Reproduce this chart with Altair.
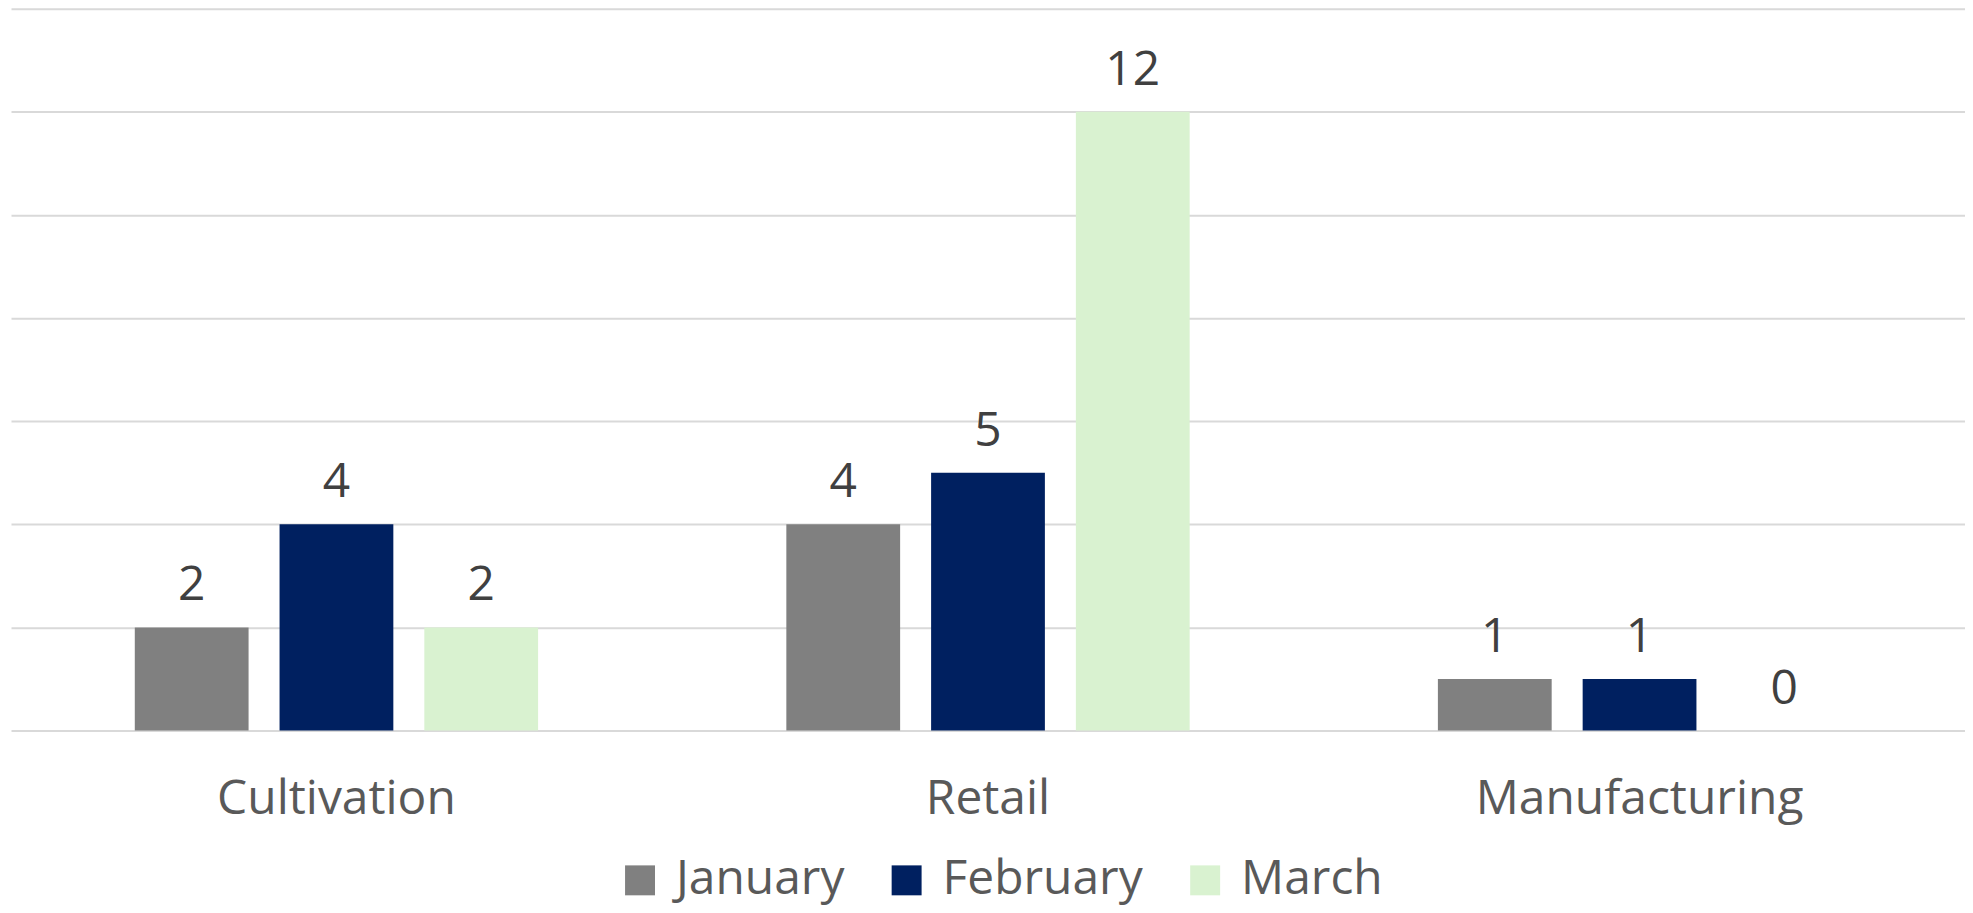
import altair as alt
import pandas as pd

categories = ["Cultivation", "Retail", "Manufacturing"]
months = ["January", "February", "March"]
january = [2, 4, 1]
february = [4, 5, 1]
march = [2, 12, 0]
colors = ["#808080", "#002060", "#d9f2d0"]
y_ticks = [0, 2, 4, 6, 8, 10, 12, 14]

rows = []
for m, vals in zip(months, [january, february, march]):
    for c, v in zip(categories, vals):
        rows.append({"category": c, "month": m, "value": v})
df = pd.DataFrame(rows)

FONT = "Open Sans"

x = alt.X(
    "category:N", sort=categories, title=None,
    scale=alt.Scale(paddingInner=0.381, paddingOuter=0.19),
    axis=alt.Axis(labelAngle=0, labelFont=FONT, labelFontSize=48,
                  labelColor="#595959", ticks=False, tickSize=0,
                  domain=False, labelPadding=45, grid=False, labelLimit=0),
)
xo = alt.XOffset("month:N", sort=months,
                 scale=alt.Scale(paddingInner=0.214, paddingOuter=0))
y = alt.Y(
    "value:Q", title=None,
    scale=alt.Scale(domain=[0, 14], nice=False),
    axis=alt.Axis(values=y_ticks, labels=False, ticks=False, domain=False,
                  gridColor="#d9d9d9", gridWidth=2),
)

color = alt.Color(
    "month:N", sort=months,
    scale=alt.Scale(domain=months, range=colors),
    legend=alt.Legend(
        orient="none", legendX=606, legendY=849, direction="horizontal",
        title=None, symbolType="square", symbolSize=900, symbolStrokeWidth=0,
        labelFont=FONT, labelFontSize=48, labelColor="#595959",
        labelOffset=12, columnPadding=38, padding=0, labelLimit=0,
        symbolOpacity=1, labelBaseline="middle",
    ),
)

bars = alt.Chart(df).mark_bar().encode(x=x, xOffset=xo, y=y, color=color)
labels = alt.Chart(df).mark_text(
    dy=-27, baseline="alphabetic", font=FONT, fontSize=48, color="#404040"
).encode(x=x, xOffset=xo, y=y, text="value:Q")

chart = (
    alt.layer(bars, labels)
    .properties(width=1957, height=723,
                padding={"left": 3, "top": 0, "right": 0, "bottom": 0},
                background="white")
    .configure_view(stroke=None)
)

chart.save("out.html", embed_options={"renderer": "svg", "actions": False})
